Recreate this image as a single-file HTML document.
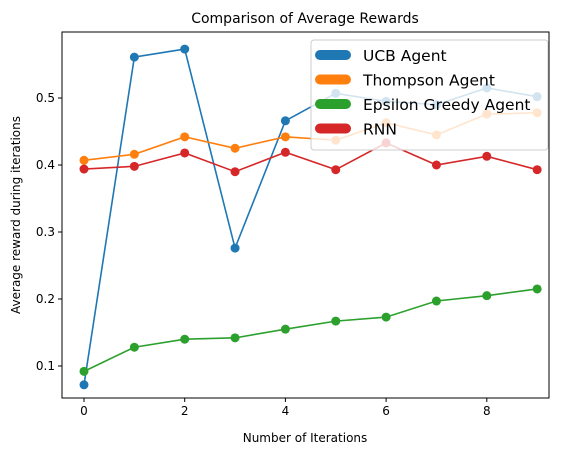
<!DOCTYPE html>
<html><head><meta charset="utf-8"><style>
html,body{margin:0;padding:0;background:#fff;}
svg{display:block;font-family:"DejaVu Sans","Liberation Sans",sans-serif;}
</style></head><body>
<svg id="chart" width="567" height="455"></svg>
<script>
const iterations=[0,1,2,3,4,5,6,7,8,9];
const ucbValues=[0.072,0.561,0.573,0.276,0.466,0.507,0.495,0.490,0.515,0.502];
const thompsonValues=[0.407,0.416,0.442,0.425,0.442,0.437,0.463,0.445,0.476,0.478];
const epsilonValues=[0.092,0.128,0.140,0.142,0.155,0.167,0.173,0.197,0.205,0.215];
const rnnValues=[0.394,0.398,0.418,0.390,0.419,0.393,0.433,0.400,0.413,0.393];
const xTicks=[0,2,4,6,8];
const yTicks=[0.1,0.2,0.3,0.4,0.5];
const seriesNames=["UCB Agent","Thompson Agent","Epsilon Greedy Agent","RNN"];
const seriesColors=["#1f77b4","#ff7f0e","#2ca02c","#d62728"];

const NS="http://www.w3.org/2000/svg";
const svg=document.getElementById('chart');
const L=62,R=549,T=32,B=398;
const xs=v=>84+v*50.35;
const ys=v=>366-(v-0.1)*670;
function mk(tag,attrs,parent){const e=document.createElementNS(NS,tag);for(const k in attrs)e.setAttribute(k,attrs[k]);(parent||svg).appendChild(e);return e;}

let t=mk('text',{x:305,y:23,'text-anchor':'middle','font-size':14,fill:'#000'});t.textContent="Comparison of Average Rewards";



const all=[ucbValues,thompsonValues,epsilonValues,rnnValues];
all.forEach((vals,si)=>{
  const g=mk('g',{});
  
  
  mk('polyline',{points:vals.map((v,i)=>xs(iterations[i])+','+ys(v)).join(' '),fill:'none',stroke:seriesColors[si],'stroke-width':1.6},g);
  vals.forEach((v,i)=>{
    const c=mk('circle',{cx:xs(iterations[i]),cy:ys(v),r:4.5,fill:seriesColors[si]},g);
    
    
  });
});

const ax=mk('rect',{x:L,y:T,width:R-L,height:B-T,fill:'none',stroke:'#000','stroke-width':1});



xTicks.forEach(v=>{
  mk('line',{x1:xs(v),x2:xs(v),y1:B,y2:B+4,stroke:'#000'});
  const l=mk('text',{x:xs(v),y:B+17,'text-anchor':'middle','font-size':12});l.textContent=v;
  
  
});
yTicks.forEach(v=>{
  mk('line',{x1:L-4,x2:L,y1:ys(v),y2:ys(v),stroke:'#000'});
  const l=mk('text',{x:L-7,y:ys(v)+4,'text-anchor':'end','font-size':12});l.textContent=v.toFixed(1);
  
  
});
t=mk('text',{x:305,y:442,'text-anchor':'middle','font-size':12});t.textContent="Number of Iterations";


t=mk('text',{x:0,y:0,'text-anchor':'middle','font-size':12,transform:'translate(20,215) rotate(-90)'});t.textContent="Average reward during iterations";



const lg=mk('g',{});


mk('rect',{x:311,y:40,width:237,height:110,rx:3,fill:'#fff','fill-opacity':0.8,stroke:'#ccc'},lg);
seriesNames.forEach((n,i)=>{
  const y=55+i*24.5;
  const e=mk('g',{},lg);
  
  
  mk('line',{x1:320,x2:346,y1:y,y2:y,stroke:seriesColors[i],'stroke-width':10,'stroke-linecap':'round'},e);
  const tx=mk('text',{x:363,y:y+6,'font-size':15.5},e);tx.textContent=n;
});
</script>
</body></html>
